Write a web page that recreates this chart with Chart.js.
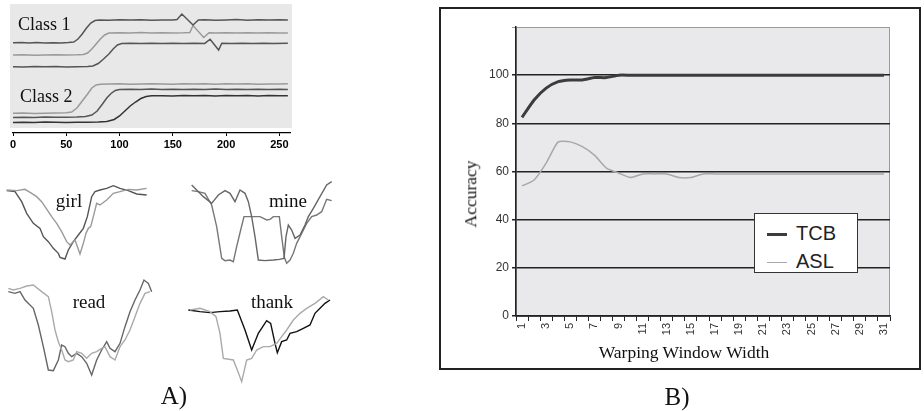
<!DOCTYPE html>
<html>
<head>
<meta charset="utf-8">
<script src="https://cdn.jsdelivr.net/npm/chart.js@4.4.1/dist/chart.umd.min.js"></script>
<style>
  body { margin: 0; width: 924px; height: 411px; position: relative; overflow: hidden; background: #fff; font-family: 'Liberation Serif', 'Times New Roman', serif; }
  canvas { position: absolute; }
  .lbl { position: absolute; line-height: 1; white-space: nowrap; color: #111; }
  .mid { transform: translateX(-50%); }
  .frame { position: absolute; left: 439px; top: 7px; width: 482px; height: 363px; border: 2px solid #222; box-sizing: border-box; }
  .legend { position: absolute; left: 754px; top: 213px; width: 104px; height: 60px; border: 1.5px solid #333; background: #fff; box-sizing: border-box; font-family: 'Liberation Sans', Arial, sans-serif; font-size: 20px; color: #222; }
  .legend div { position: absolute; left: 12px; height: 20px; line-height: 20px; }
  .legend span { display: inline-block; width: 20px; vertical-align: middle; margin-right: 9px; }
</style>
</head>
<body>

<canvas id="classes" width="300" height="160" style="left:0;top:0"></canvas>
<div class="lbl" style="left:18px;top:15px;font-size:18px">Class 1</div>
<div class="lbl" style="left:20px;top:87px;font-size:18px">Class 2</div>

<canvas id="girl" width="160" height="100" style="left:0;top:170px"></canvas>
<canvas id="mine" width="160" height="100" style="left:180px;top:170px"></canvas>
<canvas id="read" width="160" height="125" style="left:0;top:265px"></canvas>
<canvas id="thank" width="160" height="125" style="left:180px;top:265px"></canvas>
<div class="lbl mid" style="left:69px;top:191px;font-size:19px">girl</div>
<div class="lbl mid" style="left:288px;top:191px;font-size:19px">mine</div>
<div class="lbl mid" style="left:89px;top:292px;font-size:19px">read</div>
<div class="lbl mid" style="left:272px;top:292px;font-size:19px">thank</div>
<div class="lbl mid" style="left:174px;top:383px;font-size:25px">A)</div>

<div class="frame"></div>
<canvas id="accuracy" width="480" height="361" style="left:440px;top:8px"></canvas>
<div class="lbl" style="left:471px;top:194px;font-size:17.5px;transform:translate(-50%,-50%) rotate(-90deg)">Accuracy</div>
<div class="lbl mid" style="left:684px;top:344px;font-size:17.5px">Warping Window Width</div>
<div class="legend" id="legend"></div>
<div class="lbl mid" style="left:677px;top:384px;font-size:25px">B)</div>

<script>
// panel A, top: the two classes of time series (x = time, y = offset amplitude)
const class1a = [[0,9.02],[8,9.05],[15,9.0],[22,9.04],[30,9.0],[38,9.03],[45,9.01],[52,9.05],[57,9.1],[61,9.4],[65,9.9],[69,10.5],[73,11.0],[77,11.25],[81,11.3],[90,11.27],[100,11.33],[110,11.29],[120,11.33],[130,11.27],[140,11.31],[150,11.3],[154,11.35],[158.5,11.9],[169,10.8],[174,11.3],[180,11.33],[190,11.27],[200,11.31],[210,11.34],[220,11.28],[230,11.32],[240,11.29],[250,11.33],[258,11.3]];
const class1b = [[0,7.8],[10,7.82],[20,7.78],[30,7.8],[40,7.83],[50,7.8],[60,7.82],[66,7.85],[70,8.0],[74,8.4],[78,8.9],[82,9.4],[86,9.8],[90,10.0],[100,10.02],[110,10.0],[120,10.04],[130,10.0],[140,10.03],[150,10.0],[160,10.02],[166,10.05],[169,10.75],[179,9.55],[184,10.03],[190,10.0],[200,10.02],[210,10.0],[220,10.03],[230,10.0],[240,10.02],[250,10.0],[258,10.01]];
const class1c = [[0,6.63],[10,6.6],[20,6.65],[30,6.62],[40,6.64],[50,6.6],[60,6.63],[70,6.65],[75,6.7],[80,6.95],[85,7.4],[90,7.9],[94,8.4],[98,8.8],[102,8.95],[110,8.97],[120,8.95],[130,8.98],[140,8.96],[150,8.97],[160,8.95],[170,8.98],[180,8.96],[185,9.38],[193,8.3],[196,8.97],[205,8.95],[215,8.98],[225,8.96],[235,8.97],[245,8.95],[258,8.97]];
const class2a = [[0,1.97],[10,2.0],[20,1.95],[30,1.98],[40,2.0],[50,2.02],[55,2.1],[60,2.5],[65,3.2],[70,3.9],[74,4.5],[78,4.8],[82,4.88],[90,4.9],[100,4.92],[110,4.88],[120,4.9],[130,4.93],[140,4.9],[150,4.88],[160,4.92],[170,4.9],[180,4.93],[190,4.88],[200,4.92],[210,4.9],[220,4.93],[230,4.88],[240,4.91],[250,4.9],[258,4.92]];
const class2b = [[0,1.55],[10,1.58],[20,1.56],[30,1.6],[40,1.57],[50,1.58],[60,1.6],[68,1.65],[74,1.8],[79,2.2],[84,2.9],[88,3.5],[92,3.95],[96,4.25],[100,4.35],[110,4.37],[120,4.35],[130,4.39],[140,4.36],[150,4.38],[160,4.35],[170,4.38],[180,4.36],[190,4.39],[200,4.35],[210,4.38],[220,4.36],[230,4.38],[240,4.35],[250,4.37],[258,4.36]];
const class2c = [[0,1.05],[10,1.08],[20,1.06],[30,1.1],[40,1.07],[50,1.05],[60,1.08],[70,1.07],[80,1.1],[88,1.15],[95,1.35],[100,1.7],[105,2.2],[110,2.7],[115,3.1],[120,3.45],[125,3.65],[130,3.72],[140,3.73],[150,3.7],[160,3.74],[170,3.72],[180,3.75],[190,3.71],[200,3.74],[210,3.72],[220,3.75],[230,3.71],[240,3.74],[250,3.72],[258,3.73]];
const timeTicks = [0, 50, 100, 150, 200, 250];

// panel A, bottom: sign trajectories, two examples per word
const girlA = [[2,23.8],[4.5,23.5],[6.5,20.5],[8,17],[10,14],[12,12.5],[13,10],[14.5,8.5],[16,6.5],[17.5,5],[18,3.8],[19.5,3.3],[20.5,6],[22,8.5],[23.5,10.5],[25,12.5],[26.2,16],[27.5,22],[28.5,23.5],[30,24],[32,24.5],[34,25.3],[36,24.5],[38.5,23.8],[41,22.8],[44,22.5]];
const girlB = [[2,24],[5,23.8],[7.5,24.2],[9.5,23],[11,22],[12.5,20.5],[13.5,19],[15.5,16],[17,14],[18.5,11.5],[20,8.5],[21,7.5],[22.5,9],[24,4.8],[25,8],[25.8,11],[26.5,12.5],[27.2,13],[28,16],[29,20],[30,19.5],[32,21],[34,23],[36,23.5],[38.5,24.2],[41,24],[44,24.5]];
const mineA = [[3.5,23.8],[5.5,23.5],[7.5,23],[9.5,19.5],[11,13],[12.5,3.5],[13.5,2.8],[15,3],[16,2.5],[17,7],[18.2,12],[19.2,16],[21.5,16],[24,16],[26,15],[27,15.2],[28,16],[29.8,16],[30.5,10],[31.3,3.8],[32,2],[33,3],[34,5],[35,8],[36.5,11],[38,14],[39.5,16],[41,16.5],[42.5,17.5],[44,21.2],[45.5,20.8]];
const mineB = [[3.5,25.5],[5,24],[7,22],[9.5,20],[11.5,22.5],[13.5,23.8],[15,23],[16.5,20.5],[18,24],[19.5,23],[20.5,20.5],[21.5,16],[22.5,10],[23.5,3],[25.5,2.8],[28,3],[29.8,3.2],[31.2,3.5],[31.8,10],[32.5,13.5],[33.5,12],[34.5,9.5],[36,10.5],[37.5,13.5],[38.5,16],[40,18.5],[42,22],[44,25.5],[45.5,26.5]];
const readA = [[2.5,29.5],[4.5,29],[6,29.5],[7.5,27],[10,24.5],[11.5,19.5],[13,13],[14.5,6],[16,5.8],[17.5,9],[18.5,13.5],[19.5,13],[20.5,11],[21.5,10],[23,11],[24.5,10],[26,8],[27.5,4.5],[29,9],[30.5,12],[32,14.5],[33,12.5],[34.5,11.5],[36,14],[37.5,19],[39,23.5],[40.5,27],[42,30],[43.2,33],[44.5,32],[45.5,29.5]];
const readB = [[2.5,30.5],[4,30],[6,30.5],[8,31.2],[10,31.5],[12.5,29.5],[14.5,28],[15.5,23.5],[16.5,18],[17.5,14.5],[18.5,12],[19.5,9],[20.5,8.5],[22,9],[23,11.5],[24.5,11],[26,9.5],[27.5,11],[29,11.5],[30.5,12.5],[31.5,13],[33,10],[34.5,9],[36,13],[37.5,15],[39,18],[40.5,22],[42,26],[43.5,29],[45,29.5]];
const thankA = [[2.5,24],[6,23.5],[9,23.2],[12,23.5],[15,23.7],[17.2,24],[19.5,18],[21.5,12],[23.5,17],[26,20.8],[27.2,20],[28.5,14],[29.2,11.2],[30.5,14.5],[32,15],[33,17],[35,17.5],[37,18.5],[39,19.5],[40.5,23],[42,24.5],[43.5,26],[45,27]];
const thankB = [[3,24],[6,24.5],[9,23.5],[10.8,22],[12,17],[13,9.5],[16,9],[17.2,6],[18.5,2.5],[20,9],[21.5,9.5],[23,12],[25,13],[27,13],[29,14],[30.5,16],[32,18],[34,21],[36,23],[38,24.5],[40.5,26],[43,28],[44.5,27]];

// panel B: accuracy against warping window width
const windowWidths = [1,2,3,4,5,6,7,8,9,10,11,12,13,14,15,16,17,18,19,20,21,22,23,24,25,26,27,28,29,30,31];
const tcbAccuracy = [82.5,89.7,94.6,97.3,98,98,99,99,100,100,100,100,100,100,100,100,100,100,100,100,100,100,100,100,100,100,100,100,100,100,100];
const aslAccuracy = [54,56.5,63.5,72.3,72.3,70.3,66.8,61.4,59.4,57.5,59,59,59,57.5,57.5,59,59,59,59,59,59,59,59,59,59,59,59,59,59,59,59];
const accuracyTicks = [0, 20, 40, 60, 80, 100];
const seriesNames = ['TCB', 'ASL'];
const seriesColors = ['#3c3c3c', '#a8a8a8'];

// fills a rectangle behind the plot, offsets relative to the chart area
const plotBackground = {
  id: 'plotBackground',
  beforeDraw(chart, args, opts) {
    const ctx = chart.ctx;
    const a = chart.chartArea;
    const x = a.left + opts.left, y = a.top + opts.top;
    const w = a.right + opts.right - x, h = a.bottom + opts.bottom - y;
    ctx.save();
    ctx.fillStyle = opts.color;
    ctx.fillRect(x, y, w, h);
    if (opts.border) {
      ctx.strokeStyle = opts.border;
      ctx.lineWidth = 1;
      ctx.strokeRect(x + 0.5, y + 0.5, w - 1, h);
    }
    ctx.restore();
  }
};

function toPoints(pairs) {
  return pairs.map(p => ({ x: p[0], y: p[1] }));
}

function lineSet(pairs, color, width) {
  return { data: toPoints(pairs), borderColor: color, borderWidth: width, showLine: true, pointRadius: 0, tension: 0, fill: false };
}

function classChart() {
  new Chart(document.getElementById('classes'), {
    type: 'scatter',
    data: {
      datasets: [
        lineSet(class1a, '#555', 1.5), lineSet(class1b, '#9a9a9a', 1.5), lineSet(class1c, '#555', 1.5),
        lineSet(class2a, '#9a9a9a', 1.5), lineSet(class2b, '#555', 1.5), lineSet(class2c, '#333', 1.5)
      ]
    },
    options: {
      responsive: false, animation: false, events: [],
      layout: { padding: { left: 13, right: 10, top: 3, bottom: 0 } },
      plugins: {
        legend: { display: false }, tooltip: { enabled: false },
        plotBackground: { color: '#e8e8e8', left: -3, right: 2, top: 1, bottom: -5 }
      },
      scales: {
        x: {
          type: 'linear', min: 0, max: 260,
          afterBuildTicks: s => { s.ticks = timeTicks.map(v => ({ value: v })); },
          ticks: { includeBounds: false, color: '#000', padding: 2, font: { family: 'Liberation Sans', size: 11, weight: 'bold' } },
          grid: { drawOnChartArea: false, color: '#000', tickLength: 3 },
          border: { color: '#000', width: 1.3 },
          afterFit: s => { s.height = 27; }
        },
        y: { display: false, min: 0, max: 13 }
      }
    },
    plugins: [plotBackground]
  });
}

function wordChart(id, darkPairs, lightPairs, darkColor, lightColor, yMax) {
  new Chart(document.getElementById(id), {
    type: 'scatter',
    data: { datasets: [lineSet(lightPairs, lightColor, 1.4), lineSet(darkPairs, darkColor, 1.4)] },
    options: {
      responsive: false, animation: false, events: [],
      layout: { padding: 0 },
      plugins: { legend: { display: false }, tooltip: { enabled: false } },
      scales: {
        x: { display: false, min: 0, max: 48 },
        y: { display: false, min: 0, max: yMax }
      }
    }
  });
}

function accuracyChart() {
  new Chart(document.getElementById('accuracy'), {
    type: 'line',
    data: {
      labels: windowWidths,
      datasets: [
        { label: seriesNames[0], data: tcbAccuracy, borderColor: seriesColors[0], borderWidth: 3, pointRadius: 0, tension: 0.2 },
        { label: seriesNames[1], data: aslAccuracy, borderColor: seriesColors[1], borderWidth: 1.5, pointRadius: 0, tension: 0.2 }
      ]
    },
    options: {
      responsive: false, animation: false, events: [],
      layout: { padding: { left: 20, right: 30, top: 19, bottom: 6 } },
      plugins: {
        legend: { display: false }, tooltip: { enabled: false },
        plotBackground: { color: '#e9e9eb', border: '#9a9a9a', left: 0, right: 0, top: 0, bottom: 0 }
      },
      scales: {
        x: {
          offset: true,
          ticks: {
            autoSkip: false, minRotation: 90, maxRotation: 90, padding: 2, color: '#333',
            font: { family: 'Liberation Sans', size: 11 },
            callback: (v, i) => (i % 2 === 0 ? windowWidths[i] : '')
          },
          grid: { offset: true, drawOnChartArea: false, color: '#222', tickLength: 5 },
          border: { color: '#222', width: 1.5 },
          afterFit: s => { s.height = 47; }
        },
        y: {
          min: 0, max: 120,
          afterBuildTicks: s => { s.ticks = accuracyTicks.concat([120]).map(v => ({ value: v })); },
          ticks: {
            padding: 3, color: '#333', font: { family: 'Liberation Sans', size: 12 },
            callback: v => (accuracyTicks.includes(v) ? v : '')
          },
          grid: {
            color: c => (c.tick && c.tick.value === 120 ? '#9a9a9a' : '#222'),
            lineWidth: c => (c.tick && c.tick.value === 120 ? 1 : 1.5),
            tickLength: 4
          },
          border: { color: '#222', width: 1.5 },
          afterFit: s => { s.width = 56; }
        }
      }
    },
    plugins: [plotBackground]
  });
}

function buildLegend() {
  const box = document.getElementById('legend');
  seriesNames.forEach((name, i) => {
    const row = document.createElement('div');
    row.style.top = (9 + i * 28) + 'px';
    row.innerHTML = '<span style="border-top:' + (i === 0 ? 3 : 1.5) + 'px solid ' + seriesColors[i] + '"></span>' + name;
    box.appendChild(row);
  });
}

classChart();
wordChart('girl', girlA, girlB, '#555', '#9a9a9a', 30);
wordChart('mine', mineA, mineB, '#777', '#666', 30);
wordChart('read', readA, readB, '#666', '#aaa', 37.5);
wordChart('thank', thankA, thankB, '#111', '#aaa', 37.5);
accuracyChart();
buildLegend();
</script>
</body>
</html>
